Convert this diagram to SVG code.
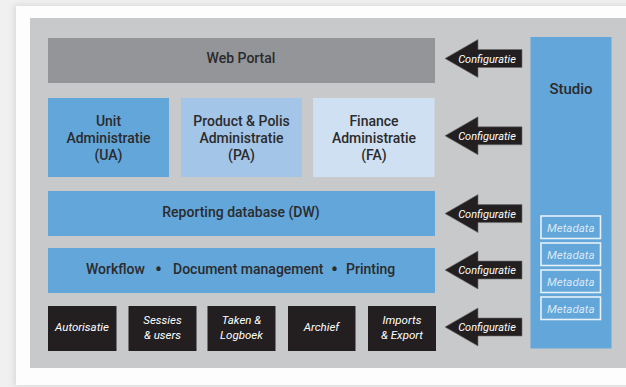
<svg xmlns="http://www.w3.org/2000/svg" width="626" height="387" viewBox="0 0 626 387">
<defs>
<filter id="sh" x="-5%" y="-5%" width="110%" height="110%"><feGaussianBlur stdDeviation="3"/></filter>
</defs>
<style>
.lbl{font-family:Roboto,"Liberation Sans",sans-serif;font-weight:500;font-size:14px;fill:#2b2b2d;text-anchor:middle}
.st{text-anchor:start}
.bul{font-size:20px}
.it{font-family:Roboto,"Liberation Sans",sans-serif;font-style:italic;font-size:11.5px;fill:#ffffff;text-anchor:middle}
.cfg{font-family:Roboto,"Liberation Sans",sans-serif;font-style:italic;font-size:11px;fill:#ffffff;text-anchor:middle}
.md{font-family:Roboto,"Liberation Sans",sans-serif;font-style:italic;font-size:11.5px;fill:#dbe8f5;text-anchor:middle}
.blk{fill:#231f20}
.arr{fill:#231f20;stroke:#6d6d6d;stroke-width:0.6}
.mdb{fill:none;stroke:#e8f0f8;stroke-width:1.6}
</style>
<rect x="0" y="0" width="626" height="387" fill="#f0f0f0"/>
<rect x="14" y="5" width="620" height="381" fill="#d8d8d8" filter="url(#sh)"/>
<rect x="16" y="6" width="620" height="379" fill="#fdfdfd"/>
<rect x="30" y="18" width="600" height="350" fill="#c8c9cb"/>

<g id="web-portal">
<rect x="48" y="38" width="387" height="45" fill="#939598"/>
<text class="lbl" x="241" y="63">Web Portal</text>
</g>
<g id="unit-administratie">
<rect x="48" y="98" width="121" height="79" fill="#62a6da"/>
<text class="lbl" x="108.5" y="125.5">Unit</text>
<text class="lbl" x="108.5" y="143">Administratie</text>
<text class="lbl" x="108.5" y="160">(UA)</text>
</g>
<g id="product-polis-administratie">
<rect x="181" y="98" width="121" height="79" fill="#a3c5e7"/>
<text class="lbl" x="241.5" y="125.5">Product &amp; Polis</text>
<text class="lbl" x="241.5" y="143">Administratie</text>
<text class="lbl" x="241.5" y="160">(PA)</text>
</g>
<g id="finance-administratie">
<rect x="313" y="98" width="121.5" height="79" fill="#cfe0f2"/>
<text class="lbl" x="374" y="125.5">Finance</text>
<text class="lbl" x="374" y="143">Administratie</text>
<text class="lbl" x="374" y="160">(FA)</text>
</g>
<g id="reporting-database">
<rect x="48" y="191" width="387" height="45" fill="#62a6da"/>
<text class="lbl" x="241" y="217">Reporting database (DW)</text>
</g>
<g id="workflow">
<rect x="48" y="248" width="387" height="45" fill="#62a6da"/>
<text class="lbl st" y="274"><tspan x="86">Workflow</tspan><tspan x="155" class="bul" dy="1.5">•</tspan><tspan x="173" dy="-1.5">Document management</tspan><tspan x="331" class="bul" dy="1.5">•</tspan><tspan x="346" dy="-1.5">Printing</tspan></text>
</g>
<g id="autorisatie">
<rect class="blk" x="48" y="306" width="68.5" height="45"/>
<text class="it" x="82" y="331">Autorisatie</text>
</g>
<g id="sessies-users">
<rect class="blk" x="128.5" y="306" width="68" height="45"/>
<text class="it" x="162.5" y="324">Sessies</text>
<text class="it" x="162.5" y="339">&amp; users</text>
</g>
<g id="taken-logboek">
<rect class="blk" x="207.5" y="306" width="68" height="45"/>
<text class="it" x="241.5" y="324">Taken &amp;</text>
<text class="it" x="241.5" y="339">Logboek</text>
</g>
<g id="archief">
<rect class="blk" x="288" y="306" width="67.5" height="45"/>
<text class="it" x="321.5" y="331">Archief</text>
</g>
<g id="imports-export">
<rect class="blk" x="368" y="306" width="68" height="45"/>
<text class="it" x="402" y="324">Imports</text>
<text class="it" x="402" y="339">&amp; Export</text>
</g>
<g id="studio">
<rect x="530.5" y="37" width="81" height="311.5" fill="#62a6da"/>
<text class="lbl" x="571" y="93.5" style="font-size:15px">Studio</text>
<rect class="mdb" x="541" y="216" width="59.5" height="22.5"/>
<text class="md" x="570.8" y="231.5">Metadata</text>
<rect class="mdb" x="541" y="243" width="59.5" height="22.5"/>
<text class="md" x="570.8" y="258.5">Metadata</text>
<rect class="mdb" x="541" y="270" width="59.5" height="22.5"/>
<text class="md" x="570.8" y="285.5">Metadata</text>
<rect class="mdb" x="541" y="297" width="59.5" height="22.5"/>
<text class="md" x="570.8" y="312.5">Metadata</text>
</g>

<g id="connectors">
<polygon class="arr" points="445,58.5 478,39.5 478,49.5 522,49.5 522,67.5 478,67.5 478,77.5"/>
<text class="cfg" x="487" y="62.5">Configuratie</text>
<polygon class="arr" points="445,135.8 478,116.8 478,126.8 522,126.8 522,144.8 478,144.8 478,154.8"/>
<text class="cfg" x="487" y="139.8">Configuratie</text>
<polygon class="arr" points="445,213.6 478,194.6 478,204.6 522,204.6 522,222.6 478,222.6 478,232.6"/>
<text class="cfg" x="487" y="217.6">Configuratie</text>
<polygon class="arr" points="445,270 478,251 478,261 522,261 522,279 478,279 478,289"/>
<text class="cfg" x="487" y="274">Configuratie</text>
<polygon class="arr" points="445,327 478,308 478,318 522,318 522,336 478,336 478,346"/>
<text class="cfg" x="487" y="331">Configuratie</text>
</g>
</svg>
